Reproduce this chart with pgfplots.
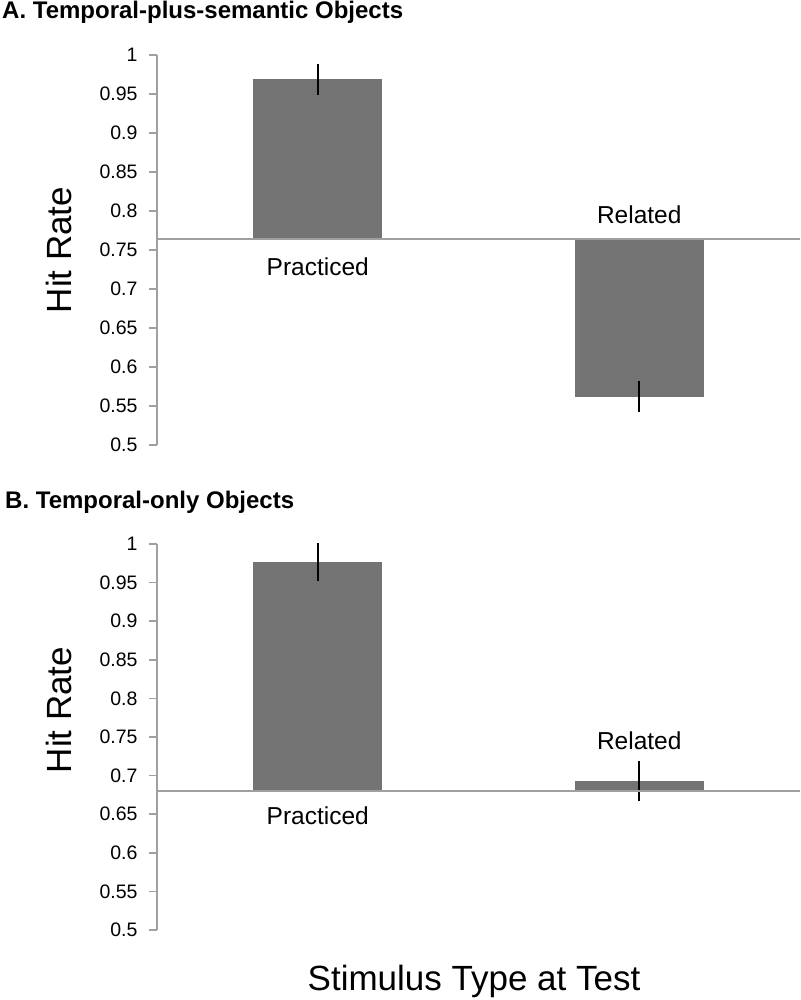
\documentclass[border=0pt]{standalone}
\usepackage{fontspec}
\setmainfont{Liberation Sans}
\usepackage{pgfplots}
\pgfplotsset{compat=1.18}
\definecolor{bargray}{HTML}{737373}
\definecolor{axgray}{HTML}{A0A0A0}

\newcommand\tickfont{\fontsize{19.5}{22}\selectfont}
\newcommand\catfont{\fontsize{24.5}{28}\selectfont}
\newcommand\labfont{\fontsize{35}{40}\selectfont}
\newcommand\ttlfont{\fontsize{24}{28}\selectfont\bfseries}

\pgfplotsset{
  panel/.style={
    scale only axis, clip=false,
    width=643pt,
    xmin=-0.5, xmax=1.5, ymin=0.5, ymax=1,
    axis x line=none, axis y line*=left,
    y axis line style={axgray, line width=1.5pt},
    ytick={0.5,0.55,0.6,0.65,0.7,0.75,0.8,0.85,0.9,0.95,1},
    tick align=outside, major tick length=8pt,
    every tick/.style={axgray, line width=1.5pt},
    yticklabel style={font=\tickfont, black, xshift=-8pt},
    /pgf/number format/assume math mode=true,
    /pgf/number format/fixed,
    /pgf/number format/precision=2,
  },
  errs/.style={draw=none, mark=none, forget plot,
    error bars/.cd, y dir=both, y explicit,
    error bar style={draw=black, line width=1.6pt}, error mark=none},
}

\begin{document}
\begin{tikzpicture}
\useasboundingbox (0,0) rectangle (800pt,-1000pt);

% panel A
\node[anchor=base west, inner sep=0pt, font=\ttlfont] at (2pt,-19pt) {A. Temporal-plus-semantic Objects};
\begin{axis}[panel, height=390pt, at={(157pt,-445pt)}, anchor=south west]
\addplot[fill=bargray, draw=none] coordinates {(-0.2,0.764) (-0.2,0.969) (0.2,0.969) (0.2,0.764)} -- cycle;
\addplot[fill=bargray, draw=none] coordinates {(0.8,0.764) (0.8,0.562) (1.2,0.562) (1.2,0.764)} -- cycle;
\addplot[errs] coordinates {(0,0.969) +- (0,0.02) (1,0.562) +- (0,0.02)};
\addplot[axgray, line width=1.5pt] coordinates {(-0.5,0.764) (1.5,0.764)};
\node[anchor=base, font=\catfont, inner sep=0pt, yshift=-36pt] at (axis cs:0,0.764) {Practiced};
\node[anchor=base, font=\catfont, inner sep=0pt, yshift=16pt] at (axis cs:1,0.764) {Related};
\end{axis}
\node[rotate=90, font=\labfont, inner sep=0pt] at (59pt,-250pt) {Hit Rate};

% panel B
\node[anchor=base west, inner sep=0pt, font=\ttlfont] at (5pt,-508pt) {B. Temporal-only Objects};
\begin{axis}[panel, height=386pt, at={(157pt,-930pt)}, anchor=south west]
\addplot[fill=bargray, draw=none] coordinates {(-0.2,0.680) (-0.2,0.977) (0.2,0.977) (0.2,0.680)} -- cycle;
\addplot[fill=bargray, draw=none] coordinates {(0.8,0.680) (0.8,0.693) (1.2,0.693) (1.2,0.680)} -- cycle;
\addplot[errs] coordinates {(0,0.977) +- (0,0.0245) (1,0.693) +- (0,0.026)};
\addplot[axgray, line width=1.5pt] coordinates {(-0.5,0.680) (1.5,0.680)};
\node[anchor=base, font=\catfont, inner sep=0pt, yshift=-33pt] at (axis cs:0,0.680) {Practiced};
\node[anchor=base, font=\catfont, inner sep=0pt, yshift=42pt] at (axis cs:1,0.680) {Related};
\end{axis}
\node[rotate=90, font=\labfont, inner sep=0pt] at (59pt,-710pt) {Hit Rate};

\node[anchor=base, font=\labfont, inner sep=0pt] at (474pt,-990pt) {Stimulus Type at Test};
\end{tikzpicture}
\end{document}
